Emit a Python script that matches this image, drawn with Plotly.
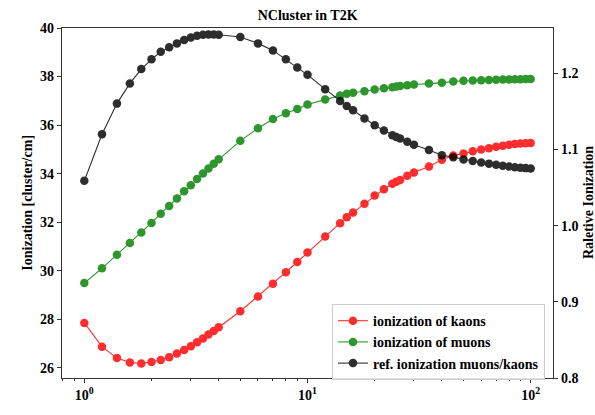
import plotly.graph_objects as go

# Particle momentum values (log axis)
momentum = [1, 1.2, 1.4, 1.6, 1.8, 2.0, 2.2, 2.4, 2.6, 2.8, 3.0, 3.2, 3.4, 3.6, 3.8, 4.0,
            5, 6, 7, 8, 9, 10, 12, 14, 15, 16, 18, 20, 22, 24, 25, 26, 28, 30,
            35, 40, 45, 50, 55, 60, 65, 70, 75, 80, 85, 90, 95, 100]

# Ionization of kaons [cluster/cm]
kaons = [27.85, 26.87, 26.40, 26.22, 26.18, 26.24, 26.32, 26.44, 26.59, 26.73, 26.89, 27.05,
         27.21, 27.37, 27.52, 27.67, 28.33, 28.94, 29.46, 29.94, 30.36, 30.75, 31.41, 31.96,
         32.20, 32.40, 32.76, 33.10, 33.36, 33.58, 33.67, 33.74, 33.91, 34.05, 34.29, 34.57,
         34.75, 34.83, 34.92, 34.99, 35.05, 35.11, 35.15, 35.19, 35.22, 35.24, 35.25, 35.26]

# Ionization of muons [cluster/cm]
muons = [29.49, 30.10, 30.66, 31.14, 31.57, 31.97, 32.35, 32.67, 32.98, 33.27, 33.52, 33.78,
         34.01, 34.21, 34.41, 34.59, 35.35, 35.87, 36.25, 36.49, 36.66, 36.85, 37.05, 37.22,
         37.29, 37.33, 37.39, 37.47, 37.52, 37.56, 37.59, 37.61, 37.64, 37.67, 37.71, 37.74,
         37.80, 37.83, 37.84, 37.85, 37.86, 37.87, 37.88, 37.88, 37.89, 37.89, 37.90, 37.90]

# Relative ionization muons/kaons
ratio = [1.0589, 1.1200, 1.1603, 1.1868, 1.2057, 1.2185, 1.2284, 1.2343, 1.2394, 1.2438,
         1.2471, 1.2493, 1.2506, 1.2510, 1.2510, 1.2508, 1.2477, 1.2394, 1.2302, 1.2186,
         1.2077, 1.1981, 1.1793, 1.1637, 1.1572, 1.1515, 1.1409, 1.1318, 1.1250, 1.1189,
         1.1166, 1.1144, 1.1102, 1.1064, 1.0993, 1.0926, 1.0900, 1.0870, 1.0850, 1.0830,
         1.0815, 1.0800, 1.0788, 1.0777, 1.0768, 1.0761, 1.0756, 1.0752]

x_major = [1, 10, 100]
x_major_text = ["10<sup>0</sup>", "10<sup>1</sup>", "10<sup>2</sup>"]
x_minor = [0.8, 0.9, 2, 3, 4, 5, 6, 7, 8, 9, 20, 30, 40, 50, 60, 70, 80, 90]
left_ticks = [26, 28, 30, 32, 34, 36, 38, 40]
right_ticks = [0.8, 0.9, 1.0, 1.1, 1.2]

SERIF = "Liberation Serif"
AXIS_COLOR = "#333333"

fig = go.Figure()


def add_series(y, name, color, axis):
    fig.add_trace(go.Scatter(
        x=momentum, y=y, name=name, yaxis=axis,
        mode="lines+markers",
        line=dict(color=color, width=1.1),
        marker=dict(color=color, size=8.5, line=dict(width=0)),
        opacity=0.82,
    ))


add_series(kaons, "ionization of kaons", "#ff0000", "y")
add_series(muons, "ionization of muons", "#008000", "y")
add_series(ratio, "ref. ionization muons/kaons", "#000000", "y2")

tickfont = dict(family=SERIF, size=14, color="black", weight="bold")

fig.update_layout(
    width=595, height=415,
    margin=dict(l=62, r=42, t=28, b=29),
    paper_bgcolor="white", plot_bgcolor="white",
    showlegend=True,
    title=dict(text="NCluster in T2K", x=0.517, xanchor="center",
               y=1 - 15 / 415, yanchor="middle", yref="container",
               font=dict(family=SERIF, size=14, color="black", weight="bold")),
    xaxis=dict(
        type="log", range=[-0.1, 2.1],
        tickvals=x_major, ticktext=x_major_text,
        ticks="outside", ticklen=4, tickwidth=1, tickcolor=AXIS_COLOR,
        minor=dict(tickvals=x_minor, ticks="outside", ticklen=2, tickwidth=0.8,
                   tickcolor=AXIS_COLOR, showgrid=False),
        showgrid=False, zeroline=False,
        showline=True, linecolor=AXIS_COLOR, linewidth=1.3, mirror=True,
        tickfont=tickfont,
    ),
    yaxis=dict(
        range=[25.58, 40.0], tickvals=left_ticks,
        ticks="outside", ticklen=4, tickwidth=1, tickcolor=AXIS_COLOR,
        showgrid=False, zeroline=False,
        showline=True, linecolor=AXIS_COLOR, linewidth=1.3,
        tickfont=tickfont,
    ),
    yaxis2=dict(
        overlaying="y", side="right",
        range=[0.8, 1.2596], tickvals=right_ticks, tickformat=".1f",
        ticks="outside", ticklen=4, tickwidth=1, tickcolor=AXIS_COLOR,
        showgrid=False, zeroline=False,
        showline=True, linecolor=AXIS_COLOR, linewidth=1.3,
        tickfont=tickfont,
    ),
    legend=dict(
        x=0.9837, y=-0.006, xanchor="right", yanchor="bottom",
        bgcolor="rgba(255,255,255,0.85)", bordercolor="#cccccc", borderwidth=1,
        font=dict(family=SERIF, size=14, color="black", weight="bold"),
        itemwidth=30, tracegroupgap=0,
    ),
    annotations=[
        dict(text="Ionization [cluster/cm]", xref="paper", yref="paper",
             x=-0.072, y=0.5, xanchor="center", yanchor="middle", textangle=-90,
             showarrow=False,
             font=dict(family=SERIF, size=14, color="black", weight="bold")),
        dict(text="Raletive Ionization", xref="paper", yref="paper",
             x=1.0713, y=0.5, xanchor="center", yanchor="middle", textangle=-90,
             showarrow=False,
             font=dict(family=SERIF, size=14, color="black", weight="bold")),
    ],
)

fig.write_html("out.html")
